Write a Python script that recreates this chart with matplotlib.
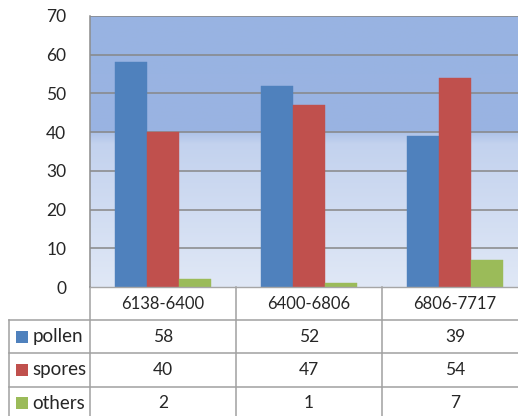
import numpy as np
import matplotlib
matplotlib.use("Agg")
import matplotlib.pyplot as plt
from matplotlib.colors import to_rgb
import matplotlib.transforms as mtransforms

plt.rcParams["font.family"] = ["Lato", "DejaVu Sans"]

# --- data ---------------------------------------------------------------
categories = ["6138-6400", "6400-6806", "6806-7717"]
series_names = ["pollen", "spores", "others"]
pollen = [58, 52, 39]
spores = [40, 47, 54]
others = [2, 1, 7]
y_ticks = [0, 10, 20, 30, 40, 50, 60, 70]

colors = ["#4F81BD", "#C0504D", "#9BBB59"]
values = [pollen, spores, others]

W, H = 518, 416
fig = plt.figure(figsize=(W / 100, H / 100), dpi=100)
fig.patch.set_facecolor("white")

# plot area runs slightly past the right edge, like the original screenshot
ax = fig.add_axes([90 / W, (H - 287) / H, 438 / W, 271 / H])
ax.set_xlim(-0.5, 2.5)
ax.set_ylim(0, 70)

# gradient background (solid blue above 40, light fade below)
ys = np.linspace(0, 70, 700)
stops_y = [0, 37, 39.9, 40, 70]
stops_c = [to_rgb("#E0E8F6"), to_rgb("#C3D2EE"), to_rgb("#AEC3E8"),
           to_rgb("#9AB4E2"), to_rgb("#98B3E2")]
grad = np.zeros((len(ys), 1, 3))
for k in range(3):
    grad[:, 0, k] = np.interp(ys, stops_y, [c[k] for c in stops_c])
ax.imshow(grad, extent=(-0.5, 2.5, 0, 70), origin="lower", aspect="auto", zorder=0)

for yv in y_ticks[1:]:
    ax.axhline(yv, color="#878787", lw=1.1, zorder=1)

x = np.arange(len(categories))
bw = 0.219
for i, (vals, c) in enumerate(zip(values, colors)):
    ax.bar(x + (i - 1) * bw, vals, width=bw, color=c, zorder=2,
           edgecolor=c, linewidth=0.3)

ax.set_yticks(y_ticks)
ax.set_yticklabels([str(t) for t in y_ticks], fontsize=12.5, color="#262626")
ax.tick_params(axis="y", length=0, pad=17)
ax.set_xticks([])
for s in ["top", "right"]:
    ax.spines[s].set_visible(False)
ax.spines["left"].set_color("#8C8C8C")
ax.spines["left"].set_linewidth(1.1)
ax.spines["bottom"].set_color("#A6A6A6")
ax.spines["bottom"].set_linewidth(1.0)

# --- data table beneath the plot -----------------------------------------
tr = mtransforms.blended_transform_factory(ax.transData, ax.transAxes)
row_h = 0.1225
line_kw = dict(color="#A0A0A0", lw=1.1, transform=tr, clip_on=False)
leg_left = -1.056

# category row
for j, cat in enumerate(categories):
    ax.text(j, -row_h * 0.5, cat, ha="center", va="center",
            fontsize=12, color="#262626", transform=tr)

# horizontal lines
for r in range(1, 4):
    ax.plot([leg_left, 2.6], [-row_h * r, -row_h * r], **line_kw)
# vertical lines
ax.plot([leg_left, leg_left], [-row_h, -row_h * 4], **line_kw)
for xv in [-0.5, 0.5, 1.5]:
    ax.plot([xv, xv], [0, -row_h * 4], **line_kw)

for i, (name, vals, c) in enumerate(zip(series_names, values, colors)):
    yc = -row_h * (i + 1.5)
    ax.plot([leg_left + 0.09], [yc], marker="s", ms=8.5, color=c,
            transform=tr, clip_on=False, markeredgewidth=0)
    ax.text(leg_left + 0.16, yc, name, ha="left", va="center",
            fontsize=13.5, color="#262626", transform=tr)
    for j, v in enumerate(vals):
        ax.text(j, yc, str(v), ha="center", va="center",
                fontsize=12.5, color="#262626", transform=tr)

fig.savefig("out.png", dpi=100)
